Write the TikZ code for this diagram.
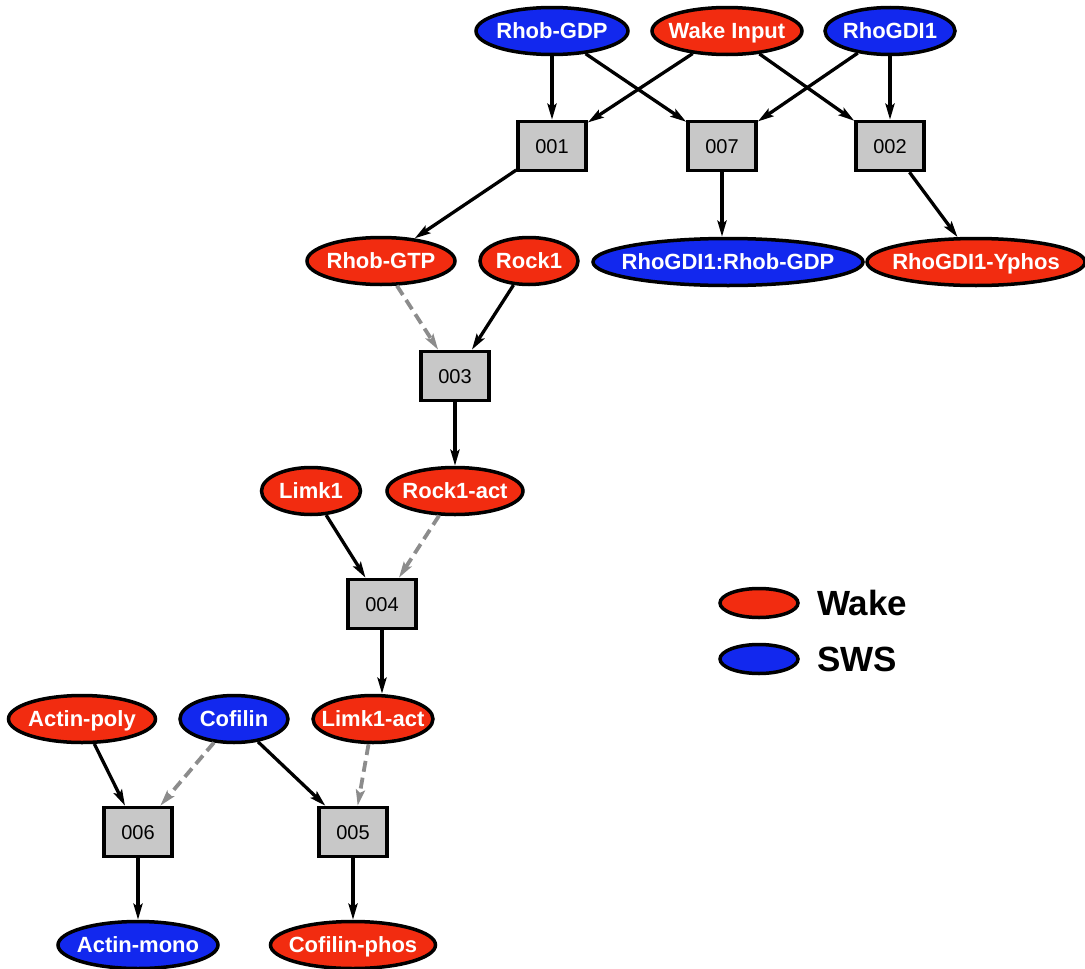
\documentclass[tikz,border=0pt]{standalone}
\usepackage{fontspec}
\setmainfont{Liberation Sans}
\usetikzlibrary{shapes.geometric,arrows.meta}
\definecolor{wakered}{RGB}{242,44,16}
\definecolor{swsblue}{RGB}{18,40,238}
\definecolor{boxgray}{RGB}{200,200,200}
\definecolor{dashgray}{RGB}{140,140,140}
\newcommand\ntxt[1]{\makebox[0pt]{\smash{#1}}\rule{0pt}{0.72em}}
\tikzset{
  ell/.style={ellipse, draw=black, line width=3.5pt, inner sep=0pt,
    minimum height=47pt, text=white,
    font=\fontsize{22}{26}\selectfont\bfseries},
  wake/.style={ell, fill=wakered, minimum width=#1},
  sws/.style={ell, fill=swsblue, minimum width=#1},
  rbox/.style={rectangle, draw=black, line width=3.5pt, fill=boxgray,
    minimum width=68pt, minimum height=49pt, inner sep=0pt,
    font=\fontsize{20}{24}\selectfont},
  arr/.style={line width=3.3pt, draw=black,
    -{Stealth[length=16pt,width=9pt,inset=3pt]}},
  darr/.style={line width=3.8pt, draw=dashgray, dash pattern=on 11pt off 6pt,
    -{Stealth[length=16pt,width=9pt,inset=3pt]}},
  legell/.style={ellipse, draw=black, line width=3.5pt, inner sep=0pt,
    minimum width=78pt, minimum height=29pt},
  legtxt/.style={anchor=west, inner sep=0pt,
    font=\fontsize{35}{40}\selectfont\bfseries}
}
\begin{document}
\begin{tikzpicture}[x=1pt,y=-1pt]
\useasboundingbox (0,0) rectangle (1085,969);
% top row
\node[sws=152pt]  (rgdp) at (552,31) {\ntxt{Rhob-GDP}};
\node[wake=150pt] (wi)   at (727,31) {\ntxt{Wake Input}};
\node[sws=130pt]  (gdi)  at (890,31) {\ntxt{RhoGDI1}};
% boxes row 1
\node[rbox] (b001) at (552,146) {\ntxt{001}};
\node[rbox] (b007) at (722,146) {\ntxt{007}};
\node[rbox] (b002) at (890,146) {\ntxt{002}};
% row 2
\node[wake=148pt] (rgtp) at (381,261) {\ntxt{Rhob-GTP}};
\node[wake=98pt]  (rock) at (529,261) {\ntxt{Rock1}};
\node[sws=270pt]  (grg)  at (728,262) {\ntxt{RhoGDI1:Rhob-GDP}};
\node[wake=218pt] (gyp)  at (976,262) {\ntxt{RhoGDI1-Yphos}};
% 003
\node[rbox] (b003) at (455,376) {\ntxt{003}};
% row 3
\node[wake=99pt]  (limk) at (311,491) {\ntxt{Limk1}};
\node[wake=136pt] (rca)  at (455,491) {\ntxt{Rock1-act}};
% 004
\node[rbox] (b004) at (382,604) {\ntxt{004}};
% row 4
\node[wake=147pt] (apoly) at (82,719)  {\ntxt{Actin-poly}};
\node[sws=108pt]  (cof)   at (234,719) {\ntxt{Cofilin}};
\node[wake=120pt] (lka)   at (373,719) {\ntxt{Limk1-act}};
% boxes row
\node[rbox] (b006) at (138,832) {\ntxt{006}};
\node[rbox] (b005) at (353,832) {\ntxt{005}};
% bottom row
\node[sws=160pt]  (amono) at (138,945) {\ntxt{Actin-mono}};
\node[wake=165pt] (cphos) at (353,945) {\ntxt{Cofilin-phos}};
% legend
\node[legell, fill=wakered] (lw) at (759,603) {};
\node[legell, fill=swsblue] (ls) at (759,659) {};
\node[legtxt] (lwt) at (817,603) {Wake};
\node[legtxt] (lst) at (817,659) {SWS};
% edges
\draw[arr] (rgdp) -- (b001);
\draw[arr] (rgdp) -- (b007);
\draw[arr] (wi) -- (b001);
\draw[arr] (wi) -- (b002);
\draw[arr] (gdi) -- (b007);
\draw[arr] (gdi) -- (b002);
\draw[arr] (b001) -- (rgtp);
\draw[arr] (b007) -- (b007 |- grg.north);
\draw[arr] (b002) -- (gyp);
\draw[darr] (rgtp) -- (b003);
\draw[arr] (rock) -- (b003);
\draw[arr] (b003) -- (rca);
\draw[arr] (limk) -- (b004);
\draw[darr] (rca) -- (b004);
\draw[arr] (b004) -- (b004 |- lka.north);
\draw[arr] (apoly) -- (b006);
\draw[darr] (cof) -- (b006);
\draw[arr] (cof) -- (b005);
\draw[darr] (lka) -- (b005);
\draw[arr] (b006) -- (amono);
\draw[arr] (b005) -- (cphos);
\end{tikzpicture}
\end{document}
